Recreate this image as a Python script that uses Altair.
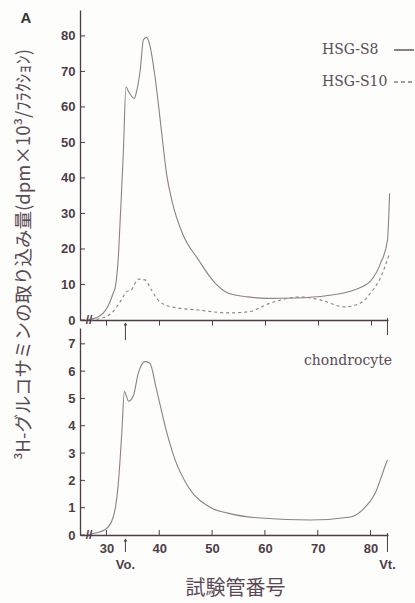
import altair as alt
import pandas as pd

# ---- data ----
s8_x = [26.2, 28.5, 30.4, 31.3, 31.7, 32.3, 32.6, 33.2, 33.7, 34.2, 35.3, 35.7, 36.4, 37.0, 37.6,
        38.2, 39.2, 40.4, 41.4, 42.5, 44.5, 47.4, 50.5, 53.0, 56.8, 60.6, 65.7, 71.9, 77.0,
        80.0, 81.9, 83.2, 83.6]
s8_y = [0.0, 0.9, 4.2, 7.6, 9.4, 18.8, 28.0, 47.0, 65.7, 64.3, 62.4, 64.3, 70.4, 78.9, 79.6,
        77.5, 68.5, 53.5, 41.0, 33.0, 24.0, 17.0, 10.5, 7.6, 6.5, 6.1, 6.2, 6.9, 8.5,
        11.0, 16.0, 22.5, 35.7]

s10_x = [27.0, 28.5, 31.0, 32.8, 33.8, 34.7, 36.0, 37.3, 38.5, 39.8, 42.3, 47.4, 53.0, 56.8,
         61.1, 66.8, 70.6, 75.1, 78.1, 80.0, 81.9, 83.6]
s10_y = [0.0, 0.3, 2.0, 5.6, 8.0, 8.5, 11.5, 11.3, 8.5, 5.6, 3.7, 2.8, 2.0, 2.3,
         4.8, 6.5, 5.6, 3.7, 4.8, 7.6, 12.0, 18.8]

ch_x = [26.3, 27.5, 29.8, 31.3, 32.3, 32.9, 33.4, 34.2, 35.1, 36.0, 37.3, 38.2, 39.4, 41.1,
        43.0, 45.5, 49.8, 53.0, 59.2, 68.7, 76.2, 78.9, 80.8, 82.9, 83.2]
ch_y = [0.0, 0.05, 0.2, 0.66, 2.0, 3.7, 5.25, 4.9, 5.1, 5.9, 6.35, 6.3, 5.4, 4.0,
        2.75, 1.76, 1.0, 0.8, 0.62, 0.55, 0.66, 1.0, 1.5, 2.6, 2.75]

top_ticks = [0, 10, 20, 30, 40, 50, 60, 70, 80]
bottom_ticks = [0, 1, 2, 3, 4, 5, 6, 7]
x_ticks = [30, 40, 50, 60, 70, 80]
vo_x = [33.6]
vt_x = [83.2]
break_x = [26.7]
legend_labels = ["HSG-S8", "HSG-S10"]
cell_label = ["chondrocyte"]
y_title = "³H-グルコサミンの取り込み量(dpm×10³/ﾌﾗｸｼｮﾝ)"
x_title = "試験管番号"
panel_label = ["A"]

AX = "#4d3d48"
LN = "#8e7f8a"
TXT = "#5a4a55"
W = 308
H_TOP = 310
H_BOT = 207

xs = alt.Scale(domain=[25, 83.3], nice=False, zero=False)
ys_top = alt.Scale(domain=[0, 87.3], nice=False)
ys_bot = alt.Scale(domain=[0, 7.58], nice=False)

label_style = dict(labelFont="Liberation Sans", labelFontSize=13, labelFontWeight="bold",
                   labelColor=AX, domainColor=AX, tickColor=AX, grid=False,
                   labelOverlap=False, labelFlush=False, domainWidth=1.3)

s8 = pd.DataFrame({"x": s8_x, "y": s8_y})
s10 = pd.DataFrame({"x": s10_x, "y": s10_y})
ch = pd.DataFrame({"x": ch_x, "y": ch_y})
vo_df = pd.DataFrame({"x": vo_x})
vt_df = pd.DataFrame({"x": vt_x})
br_df = pd.DataFrame({"x": break_x, "t": ["//"]})
top_tick_df = pd.DataFrame({"y": top_ticks})
bot_tick_df = pd.DataFrame({"y": bottom_ticks})
x_tick_df = pd.DataFrame({"x": x_ticks})

# ---------- top panel ----------
top_x_axis = alt.Axis(values=x_ticks, labels=False, title=None, ticks=True, tickSize=5,
                      **label_style)
top_y_axis = alt.Axis(values=top_ticks, title=y_title, ticks=False, labelPadding=5,
                      titleX=-57, titleY=244, titleAngle=270,
                      titleAlign="center", titleBaseline="middle", titleFont="Noto Sans CJK JP",
                      titleFontSize=18.5, titleFontWeight="normal", titleColor=TXT, **label_style)


def XT():
    return alt.X("x:Q", scale=xs, axis=top_x_axis)


def YT():
    return alt.Y("y:Q", scale=ys_top, axis=top_y_axis)


line_s8 = alt.Chart(s8).mark_line(color=LN, strokeWidth=1.1, interpolate="monotone").encode(
    x=XT(), y=YT())
line_s10 = alt.Chart(s10).mark_line(color=LN, strokeWidth=1.1, strokeDash=[3, 3],
                                    interpolate="monotone").encode(x=XT(), y=YT())
ytick_top = alt.Chart(top_tick_df).mark_rule(color=AX, strokeWidth=1).encode(
    y=YT(), x=alt.value(0), x2=alt.value(5))

vo_top = alt.Chart(vo_df).mark_rule(color=AX, strokeWidth=1).encode(
    x=XT(), y=alt.value(313), y2=alt.value(330))
vo_top_head = alt.Chart(vo_df).mark_point(shape="triangle-up", filled=True, size=14,
                                          color=AX, opacity=1).encode(x=XT(), y=alt.value(314))
vt_top = alt.Chart(vt_df).mark_rule(color=AX, strokeWidth=1).encode(
    x=XT(), y=alt.value(308), y2=alt.value(325))
br_top = alt.Chart(br_df).mark_text(fontSize=12, fontWeight="bold", color=AX).encode(
    x=XT(), y=alt.value(310), text="t:N")

leg_df = pd.DataFrame({"t": legend_labels, "yy": [40, 72]})
leg_text = alt.Chart(leg_df).mark_text(font="DejaVu Serif", fontSize=14, color=TXT,
                                       align="left", baseline="middle").encode(
    x=alt.value(242), y=alt.Y("yy:Q", scale=None), text="t:N")
leg_solid = alt.Chart(pd.DataFrame({"s": ["HSG-S8"]})).mark_rule(color=AX, strokeWidth=1.3).encode(
    x=alt.value(314), x2=alt.value(334), y=alt.value(40))
leg_dash = alt.Chart(pd.DataFrame({"s": ["HSG-S10"]})).mark_rule(
    color=AX, strokeWidth=1.1, strokeDash=[4, 3]).encode(
    x=alt.value(314), x2=alt.value(334), y=alt.value(72))
a_text = alt.Chart(pd.DataFrame({"t": panel_label})).mark_text(
    font="Liberation Sans", fontSize=15, fontWeight="bold", color="#333",
    align="center", baseline="middle").encode(x=alt.value(-54), y=alt.value(8), text="t:N")

top = alt.layer(line_s8, line_s10, ytick_top, vo_top, vo_top_head, vt_top, br_top,
                leg_text, leg_solid, leg_dash, a_text).properties(width=W, height=H_TOP)

# ---------- bottom panel ----------
bot_x_axis = alt.Axis(values=x_ticks, title=x_title, ticks=False, labelPadding=7,
                      titleFont="Noto Sans CJK JP",
                      titleFontSize=20, titleFontWeight="normal", titleColor=TXT,
                      titleX=155, titleY=53, titleBaseline="middle", titleAlign="center",
                      **label_style)
bot_y_axis = alt.Axis(values=bottom_ticks, title=None, ticks=False, labelPadding=5,
                      **label_style)


def XB():
    return alt.X("x:Q", scale=xs, axis=bot_x_axis)


def YB():
    return alt.Y("y:Q", scale=ys_bot, axis=bot_y_axis)


line_ch = alt.Chart(ch).mark_line(color=LN, strokeWidth=1.1, interpolate="monotone").encode(
    x=XB(), y=YB())
ytick_bot = alt.Chart(bot_tick_df).mark_rule(color=AX, strokeWidth=1).encode(
    y=YB(), x=alt.value(0), x2=alt.value(5))
xtick_bot = alt.Chart(x_tick_df).mark_rule(color=AX, strokeWidth=1).encode(
    x=XB(), y=alt.value(202), y2=alt.value(207))
vo_bot = alt.Chart(vo_df).mark_rule(color=AX, strokeWidth=1).encode(
    x=XB(), y=alt.value(211), y2=alt.value(224))
vo_bot_head = alt.Chart(vo_df).mark_point(shape="triangle-up", filled=True, size=14,
                                          color=AX, opacity=1).encode(x=XB(), y=alt.value(212))
vt_bot = alt.Chart(vt_df).mark_rule(color=AX, strokeWidth=1).encode(
    x=XB(), y=alt.value(205), y2=alt.value(224))
br_bot = alt.Chart(br_df).mark_text(fontSize=12, fontWeight="bold", color=AX).encode(
    x=XB(), y=alt.value(207), text="t:N")
vo_lab = alt.Chart(pd.DataFrame({"x": vo_x, "t": ["Vo."]})).mark_text(
    font="Liberation Sans", fontSize=13, fontWeight="bold", color=AX).encode(
    x=XB(), y=alt.value(237), text="t:N")
vt_lab = alt.Chart(pd.DataFrame({"x": vt_x, "t": ["Vt."]})).mark_text(
    font="Liberation Sans", fontSize=13, fontWeight="bold", color=AX).encode(
    x=XB(), y=alt.value(237), text="t:N")
cell_text = alt.Chart(pd.DataFrame({"t": cell_label})).mark_text(
    font="DejaVu Serif", fontSize=14, color=TXT, align="left", baseline="middle").encode(
    x=alt.value(224), y=alt.value(33), text="t:N")

bottom = alt.layer(line_ch, ytick_bot, xtick_bot, vo_bot, vo_bot_head, vt_bot, br_bot,
                   vo_lab, vt_lab, cell_text).properties(width=W, height=H_BOT)

chart = alt.VConcatChart(vconcat=[top, bottom], spacing=8, bounds="flush").properties(
    padding={"left": 13, "top": 10, "right": 0, "bottom": 20},
    background="#fdfdfb",
).configure_view(stroke=None)

chart.save("out.html", embed_options={"renderer": "svg", "actions": False})
